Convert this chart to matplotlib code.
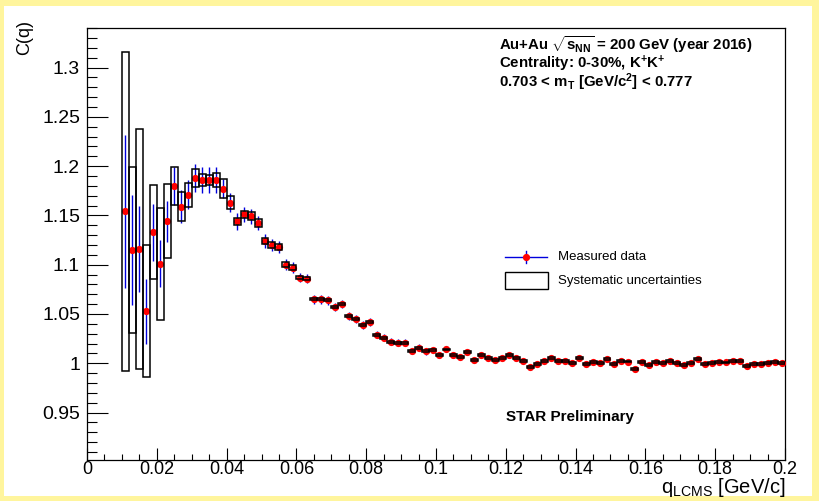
import matplotlib
matplotlib.use("Agg")
import matplotlib.pyplot as plt
from matplotlib import font_manager
from matplotlib.patches import Rectangle
from matplotlib.lines import Line2D
from matplotlib.ticker import MultipleLocator, FuncFormatter

# ---------------- data ----------------
q_lcms = [0.011, 0.013, 0.015, 0.017, 0.019, 0.021, 0.023, 0.025, 0.027, 0.029,
          0.031, 0.033, 0.035, 0.037, 0.039, 0.041, 0.043, 0.045, 0.047, 0.049,
          0.051, 0.053, 0.055, 0.057, 0.059, 0.061, 0.063, 0.065, 0.067, 0.069,
          0.071, 0.073, 0.075, 0.077, 0.079, 0.081, 0.083, 0.085, 0.087, 0.089,
          0.091, 0.093, 0.095, 0.097, 0.099, 0.101, 0.103, 0.105, 0.107, 0.109,
          0.111, 0.113, 0.115, 0.117, 0.119, 0.121, 0.123, 0.125, 0.127, 0.129,
          0.131, 0.133, 0.135, 0.137, 0.139, 0.141, 0.143, 0.145, 0.147, 0.149,
          0.151, 0.153, 0.155, 0.157, 0.159, 0.161, 0.163, 0.165, 0.167, 0.169,
          0.171, 0.173, 0.175, 0.177, 0.179, 0.181, 0.183, 0.185, 0.187, 0.189,
          0.191, 0.193, 0.195, 0.197, 0.199]

corr = [1.154, 1.115, 1.116, 1.053, 1.133, 1.101, 1.144, 1.180, 1.159, 1.171,
        1.188, 1.186, 1.186, 1.186, 1.177, 1.163, 1.144, 1.151, 1.149, 1.142,
        1.124, 1.120, 1.118, 1.100, 1.097, 1.087, 1.086, 1.065, 1.065, 1.064,
        1.057, 1.060, 1.048, 1.045, 1.039, 1.042, 1.029, 1.026, 1.022, 1.021,
        1.021, 1.0125, 1.016, 1.012, 1.013, 1.008, 1.014, 1.008, 1.0066, 1.011,
        1.0037, 1.008, 1.0055, 1.0034, 1.005, 1.008, 1.0054, 1.0027, 0.9959, 0.9997,
        1.0028, 1.0057, 1.0024, 1.0024, 1.0003, 1.0049, 0.9992, 1.0014, 1.000, 1.0044,
        0.9994, 1.0025, 1.0018, 0.9943, 1.0017, 0.9986, 1.0017, 1.0007, 1.0024, 1.0007,
        0.9978, 1.0007, 1.0045, 0.9997, 1.0003, 1.001, 1.0008, 1.0025, 1.0022, 0.9971,
        0.999, 0.9993, 1.000, 1.001, 1.0003]

stat_err = [0.078, 0.056, 0.044, 0.033, 0.029, 0.024, 0.021, 0.019, 0.017, 0.015,
            0.014, 0.0135, 0.013, 0.013, 0.0095, 0.0095, 0.0085, 0.008, 0.0078, 0.0073,
            0.007, 0.006, 0.006, 0.0055, 0.0053, 0.005, 0.005, 0.0047, 0.0045, 0.0044,
            0.0043, 0.0042, 0.004, 0.004, 0.0038, 0.0037, 0.0036, 0.0035, 0.0034, 0.0033,
            0.0032, 0.0032, 0.0031, 0.0031, 0.003, 0.003, 0.003, 0.003, 0.003, 0.003,
            0.0029, 0.0029, 0.0029, 0.0029, 0.0029, 0.0028, 0.0028, 0.0028, 0.0028, 0.0028,
            0.0028, 0.0027, 0.0027, 0.0027, 0.0027, 0.0027, 0.0027, 0.0026, 0.0026, 0.0026,
            0.0026, 0.0026, 0.0026, 0.0026, 0.0026, 0.0025, 0.0025, 0.0025, 0.0025, 0.0025,
            0.0025, 0.0025, 0.0025, 0.0025, 0.0025, 0.0025, 0.0025, 0.0025, 0.0025, 0.0025,
            0.0025, 0.0025, 0.0025, 0.0025, 0.0025]

sys_err = [0.162, 0.084, 0.122, 0.067, 0.0475, 0.057, 0.0375, 0.0196, 0.0145, 0.012,
           0.0093, 0.006, 0.0054, 0.007, 0.0098, 0.007, 0.0035, 0.0035, 0.004, 0.0039,
           0.003, 0.0027, 0.0027, 0.0025, 0.0025, 0.002, 0.002, 0.0012, 0.0012, 0.0012,
           0.0011, 0.0011, 0.0011, 0.0011, 0.0011, 0.001, 0.001, 0.001, 0.001, 0.001,
           0.001, 0.001, 0.001, 0.001, 0.001, 0.001, 0.001, 0.001, 0.001, 0.001,
           0.001, 0.001, 0.001, 0.001, 0.001, 0.001, 0.001, 0.001, 0.001, 0.001,
           0.001, 0.001, 0.001, 0.001, 0.001, 0.001, 0.001, 0.001, 0.001, 0.001,
           0.001, 0.001, 0.001, 0.001, 0.001, 0.001, 0.001, 0.001, 0.001, 0.001,
           0.001, 0.001, 0.001, 0.001, 0.001, 0.001, 0.001, 0.001, 0.001, 0.001,
           0.001, 0.001, 0.001, 0.001, 0.001]

bin_width = 0.002

info_lines = [r"Au+Au $\sqrt{\mathbf{s}_{\mathbf{NN}}}$ = 200 GeV (year 2016)",
              r"Centrality: 0-30%, K$^{\mathbf{+}}$K$^{\mathbf{+}}$",
              r"0.703 < m$_{\mathbf{T}}$ [GeV/c$^{\mathbf{2}}$] < 0.777"]
legend_labels = ["Measured data", "Systematic uncertainties"]

# ---------------- style ----------------
names = {f.name for f in font_manager.fontManager.ttflist}
SANS = "Liberation Sans" if "Liberation Sans" in names else "DejaVu Sans"
NARROW = "Liberation Sans Narrow" if "Liberation Sans Narrow" in names else SANS
plt.rcParams["font.family"] = [SANS, "DejaVu Sans"]
plt.rcParams["mathtext.fontset"] = "custom"
plt.rcParams["mathtext.rm"] = SANS
plt.rcParams["mathtext.bf"] = SANS + ":bold"
plt.rcParams["mathtext.it"] = SANS + ":italic"

W, H = 819, 501
fig = plt.figure(figsize=(W / 100, H / 100), dpi=100)
fig.patch.set_facecolor("#fff59d")
fig.add_artist(Rectangle((4 / W, 5 / H), (W - 11) / W, (H - 11) / H,
                         transform=fig.transFigure, facecolor="white",
                         edgecolor="none", zorder=0))


def fx(px):
    return px / W


def fy(py):
    return 1 - py / H


x0, x1, y0, y1 = 87, 785, 28, 460
ax = fig.add_axes([fx(x0), fy(y1), (x1 - x0) / W, (y1 - y0) / H])
ax.set_facecolor("white")
ax.set_xlim(0, 0.2)
ax.set_ylim(0.9019, 1.3401)

ax.errorbar(q_lcms, corr, yerr=stat_err, fmt="none", ecolor="#0000dd",
            elinewidth=1.0, capsize=0, zorder=2)
ax.plot(q_lcms, corr, "o", color="red", markersize=5.2, markeredgewidth=0,
        zorder=3)
for xv, yv, sv in zip(q_lcms, corr, sys_err):
    ax.add_patch(Rectangle((xv - bin_width / 2, yv - sv), bin_width, 2 * sv,
                           facecolor="none", edgecolor="black", linewidth=1.1,
                           zorder=4))

ax.xaxis.set_major_locator(MultipleLocator(0.02))
ax.xaxis.set_minor_locator(MultipleLocator(0.005))
ax.yaxis.set_major_locator(MultipleLocator(0.05))
ax.yaxis.set_minor_locator(MultipleLocator(0.01))
fmt = FuncFormatter(lambda v, p: "%g" % round(v, 4))
ax.xaxis.set_major_formatter(fmt)
ax.yaxis.set_major_formatter(fmt)
ax.tick_params(axis="both", which="both", direction="in", width=0.8,
               top=False, right=False, colors="black")
ax.tick_params(axis="y", which="major", length=15, pad=5, labelsize=14)
ax.tick_params(axis="y", which="minor", length=7.5)
ax.tick_params(axis="x", which="major", length=8.5, pad=0.5, labelsize=13)
ax.tick_params(axis="x", which="minor", length=4.3)
for lab in ax.get_xticklabels():
    lab.set_fontfamily(NARROW)
for sp in ax.spines.values():
    sp.set_linewidth(0.9)
    sp.set_color("black")

fig.text(fx(25), fy(20), "C(q)", rotation=90, ha="center", va="top",
         fontsize=13)
fig.text(fx(785), fy(493), r"q$_{\mathrm{LCMS}}$ [GeV/c]", ha="right",
         va="baseline", fontsize=14.5)

for i, line in enumerate(info_lines):
    fig.text(fx(499), fy(50.0 + 18.6 * i), line, ha="left", va="baseline",
             fontsize=10.8, fontweight="bold")

fig.text(fx(506), fy(417), "STAR Preliminary", ha="left", va="center",
         fontsize=11, fontweight="bold")

fig.add_artist(Line2D([fx(505), fx(547)], [fy(257), fy(257)], color="#0000dd",
                      lw=1.0, transform=fig.transFigure))
fig.add_artist(Line2D([fx(526), fx(526)], [fy(251), fy(263)], color="#0000dd",
                      lw=1.0, transform=fig.transFigure))
fig.add_artist(Line2D([fx(526)], [fy(257)], marker="o", color="red",
                      markersize=5.2, markeredgewidth=0, linestyle="none",
                      transform=fig.transFigure))
fig.add_artist(Rectangle((fx(505), fy(289)), (548 - 505) / W, (289 - 272) / H,
                         transform=fig.transFigure, facecolor="none",
                         edgecolor="black", linewidth=1.0))
fig.text(fx(558), fy(257), legend_labels[0], ha="left", va="center",
         fontsize=9.5)
fig.text(fx(558), fy(281), legend_labels[1], ha="left", va="center",
         fontsize=9.5)

fig.savefig("out.png", dpi=100, facecolor=fig.get_facecolor())
